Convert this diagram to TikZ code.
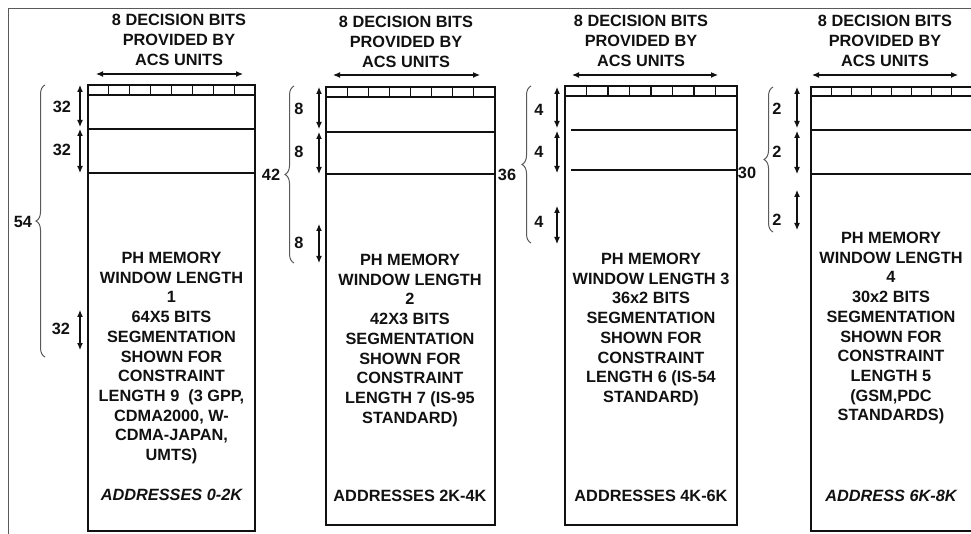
\documentclass[tikz,border=0pt]{standalone}
\usepackage{fontspec}
\setmainfont{Liberation Sans}
\usepackage{xcolor}
\usepackage{tikz}
\usetikzlibrary{positioning, arrows.meta, decorations.pathreplacing}
\definecolor{framegray}{HTML}{5A5A5A}
\definecolor{inkblack}{HTML}{111111}

\tikzset{
  lbl/.style={font=\fontsize{16.3}{19.7}\selectfont\bfseries, inner sep=0pt, text=inkblack},
  memtext/.style={lbl, align=center, anchor=north},
  addr/.style={lbl, anchor=center},
  membox/.style={draw=inkblack, line width=1.3pt},
  segline/.style={draw=inkblack, line width=1.1pt},
  dimarrow/.style={{Latex[length=7pt,width=6pt]}-{Latex[length=7pt,width=6pt]}, line width=1.1pt, draw=inkblack},
  bracket/.style={decorate, decoration={brace, amplitude=9pt}, draw=framegray, line width=1pt},
}

\begin{document}
\begin{tikzpicture}[x=1pt, y=-1pt]
  \clip (0,0) rectangle (971,534);
  % outer frame
  \draw[framegray, line width=1pt] (8,9) rectangle (995,560);

  % headers
  \node[memtext, anchor=center] (head1) at (179,40) {8 DECISION BITS\\PROVIDED BY\\ACS UNITS};
  \node[memtext, anchor=center] (head2) at (406,42) {8 DECISION BITS\\PROVIDED BY\\ACS UNITS};
  \node[memtext, anchor=center] (head3) at (641,41) {8 DECISION BITS\\PROVIDED BY\\ACS UNITS};
  \node[memtext, anchor=center] (head4) at (885,41) {8 DECISION BITS\\PROVIDED BY\\ACS UNITS};
  \draw[dimarrow] (96,74) -- (243,74);
  \draw[dimarrow] (333,75) -- (480,75);
  \draw[dimarrow] (572,75) -- (718,75);
  \draw[dimarrow] (812,75) -- (958,75);

  % window 1
  \draw[membox] (88,85) rectangle (255,531);
  \draw[segline] (88,95) -- (255,95) (88,129) -- (255,129) (88,173) -- (255,173);
  \foreach \i in {1,...,7}
    \draw[segline] (88+\i*20.875,85) -- (88+\i*20.875,95);
  \node[memtext] (win1) at (171.5,252) {PH MEMORY\\WINDOW LENGTH\\1\\64X5 BITS\\SEGMENTATION\\SHOWN FOR\\CONSTRAINT\\LENGTH 9~ (3 GPP,\\CDMA2000, W-\\CDMA-JAPAN,\\UMTS)};
  \node[addr, font=\fontsize{16.3}{19.7}\selectfont\bfseries\itshape] (addr1) at (171.5,495) {ADDRESSES 0-2K};

  % window 2
  \draw[membox] (326,87) rectangle (495,525);
  \draw[segline] (326,97) -- (495,97) (326,132) -- (495,132) (326,174) -- (495,174);
  \foreach \i in {1,...,7}
    \draw[segline] (326+\i*21.125,87) -- (326+\i*21.125,97);
  \node[memtext] (win2) at (410,254) {PH MEMORY\\WINDOW LENGTH\\2\\42X3 BITS\\SEGMENTATION\\SHOWN FOR\\CONSTRAINT\\LENGTH 7 (IS-95\\STANDARD)};
  \node[addr] (addr2) at (410,496) {ADDRESSES 2K-4K};

  % window 3
  \draw[membox] (565,86) rectangle (737,525);
  \draw[segline] (565,96) -- (737,96) (571,130) -- (737,130) (571,170) -- (737,170);
  \foreach \i in {1,...,7}
    \draw[segline] (565+\i*21.5,86) -- (565+\i*21.5,96);
  \node[memtext] (win3) at (651,253) {PH MEMORY\\WINDOW LENGTH 3\\36x2 BITS\\SEGMENTATION\\SHOWN FOR\\CONSTRAINT\\LENGTH 6 (IS-54\\STANDARD)};
  \node[addr] (addr3) at (651,496) {ADDRESSES 4K-6K};

  % window 4
  \draw[membox] (811,87) rectangle (972,531);
  \draw[segline] (811,96) -- (972,96) (811,130) -- (972,130) (811,174) -- (972,174);
  \foreach \i in {1,...,7}
    \draw[segline] (811+\i*20.1,87) -- (811+\i*20.1,96);
  \node[memtext] (win4) at (891,232) {PH MEMORY\\WINDOW LENGTH\\4\\30x2 BITS\\SEGMENTATION\\SHOWN FOR\\CONSTRAINT\\LENGTH 5\\(GSM,PDC\\STANDARDS)};
  \node[addr, font=\fontsize{16.3}{19.7}\selectfont\bfseries\itshape] (addr4) at (891,496) {ADDRESS 6K-8K};

  % segment sizes
  \draw[dimarrow] (80,85) -- (80,127);
  \draw[dimarrow] (80,129) -- (80,173);
  \draw[dimarrow] (80,310) -- (80,350);
  \node[lbl] (s1a) at (62,107) {32};
  \node[lbl] (s1b) at (62,150) {32};
  \node[lbl] (s1c) at (61,329) {32};

  \draw[dimarrow] (319,87) -- (319,129);
  \draw[dimarrow] (319,132) -- (319,174);
  \draw[dimarrow] (319,224) -- (319,263);
  \node[lbl] (s2a) at (299,109) {8};
  \node[lbl] (s2b) at (299,152) {8};
  \node[lbl] (s2c) at (299,243) {8};

  \draw[dimarrow] (557,87) -- (557,128);
  \draw[dimarrow] (557,131) -- (557,173);
  \draw[dimarrow] (557,206) -- (557,244);
  \node[lbl] (s3a) at (539,110) {4};
  \node[lbl] (s3b) at (539,152) {4};
  \node[lbl] (s3c) at (539,222) {4};

  \draw[dimarrow] (797,87) -- (797,128);
  \draw[dimarrow] (797,131) -- (797,174);
  \draw[dimarrow] (797,190) -- (797,230);
  \node[lbl] (s4a) at (777,109) {2};
  \node[lbl] (s4b) at (777,152) {2};
  \node[lbl] (s4c) at (777,220) {2};

  % window totals
  \draw[bracket] (45,357) -- (45,85);
  \node[lbl] (tot1) at (23,222) {54};
  \draw[bracket] (294,263) -- (294,86);
  \node[lbl] (tot2) at (271,175) {42};
  \draw[bracket] (531,243) -- (531,86);
  \node[lbl] (tot3) at (507,175) {36};
  \draw[bracket] (773,232) -- (773,87);
  \node[lbl] (tot4) at (747,173) {30};
\end{tikzpicture}
\end{document}
